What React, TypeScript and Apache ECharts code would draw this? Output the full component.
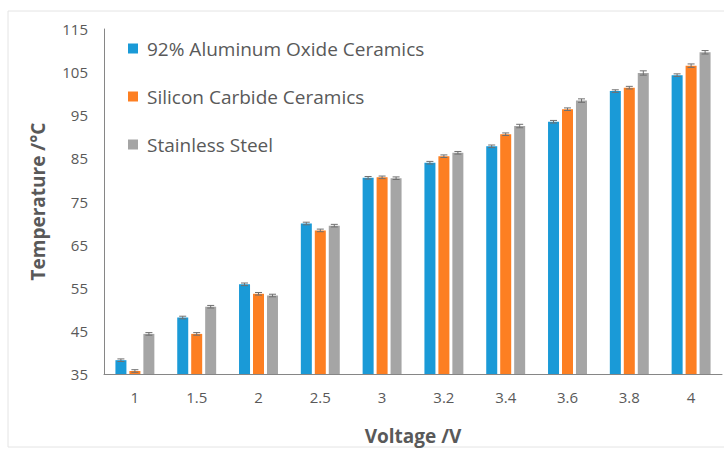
import React, { useEffect, useRef } from "react";
import * as echarts from "echarts";

const categories = ["1", "1.5", "2", "2.5", "3", "3.2", "3.4", "3.6", "3.8", "4"];
const seriesNames = ["92% Aluminum Oxide Ceramics", "Silicon Carbide Ceramics", "Stainless Steel"];
const aluminaValues = [38.2, 48.1, 55.8, 69.9, 80.5, 84.0, 87.8, 93.5, 100.6, 104.3];
const siliconCarbideValues = [35.7, 44.3, 53.6, 68.3, 80.6, 85.5, 90.6, 96.4, 101.4, 106.5];
const steelValues = [44.3, 50.6, 53.2, 69.4, 80.4, 86.3, 92.5, 98.4, 104.8, 109.6];
const aluminaErrors = [0.3, 0.3, 0.3, 0.3, 0.3, 0.3, 0.3, 0.3, 0.3, 0.3];
const siliconCarbideErrors = [0.3, 0.3, 0.3, 0.3, 0.3, 0.3, 0.3, 0.3, 0.3, 0.4];
const steelErrors = [0.3, 0.3, 0.3, 0.3, 0.3, 0.3, 0.4, 0.4, 0.5, 0.4];
const yTickLabels = [35, 45, 55, 65, 75, 85, 95, 105, 115];

const colors = ["#1a9ad7", "#fd7f22", "#a5a5a5"];
const textColor = "#595959";
const font = "'Open Sans', 'Noto Sans', sans-serif";

export default function App() {
  const ref = useRef<HTMLDivElement>(null);
  useEffect(() => {
    if (!ref.current) return;
    const chart = echarts.init(ref.current, undefined, { renderer: "svg" });
    const values = [aluminaValues, siliconCarbideValues, steelValues];
    const errors = [aluminaErrors, siliconCarbideErrors, steelErrors];
    const barWidth = 11;
    const step = 14;

    const barSeries = seriesNames.map((name, i) => ({
      name,
      type: "bar",
      data: values[i],
      barWidth,
      barGap: "27%",
      itemStyle: { color: colors[i] },
    }));

    const errorSeries = seriesNames.map((name, i) => ({
      name: name + " error",
      type: "custom",
      data: values[i].map((v, j) => [j, v, errors[i][j]]),
      z: 5,
      renderItem: (params: any, api: any) => {
        const cat = api.value(0);
        const v = api.value(1);
        const e = api.value(2);
        const top = api.coord([cat, v + e]);
        const bot = api.coord([cat, v - e]);
        const x = top[0] + (i - 1) * step;
        const hw = 3.5;
        const style = { stroke: "#707070", lineWidth: 1 };
        return {
          type: "group",
          children: [
            { type: "line", shape: { x1: x, y1: top[1], x2: x, y2: bot[1] }, style },
            { type: "line", shape: { x1: x - hw, y1: top[1], x2: x + hw, y2: top[1] }, style },
            { type: "line", shape: { x1: x - hw, y1: bot[1], x2: x + hw, y2: bot[1] }, style },
          ],
        };
      },
    }));

    chart.setOption({
      animation: false,
      backgroundColor: "#ffffff",
      textStyle: { fontFamily: font },
      graphic: [
        {
          type: "rect",
          shape: { x: 8, y: 11, width: 730, height: 436 },
          style: { fill: "none", stroke: "#e4e4e4", lineWidth: 1 },
          silent: true,
        },
      ],
      legend: {
        data: seriesNames,
        orient: "vertical",
        left: 123,
        top: 34,
        itemWidth: 10,
        itemHeight: 10,
        itemGap: 29,
        icon: "rect",
        textStyle: { color: textColor, fontSize: 19, fontFamily: font, padding: [0, 0, 0, 4] },
      },
      grid: { left: 104, right: 2, top: 29, bottom: 73, containLabel: false },
      xAxis: {
        type: "category",
        data: categories,
        name: "Voltage /V",
        nameLocation: "middle",
        nameGap: 52,
        nameTextStyle: { color: textColor, fontSize: 19, fontWeight: "bold", fontFamily: font },
        axisLine: { lineStyle: { color: "#868686", width: 1 } },
        axisTick: { show: false },
        axisLabel: { color: textColor, fontSize: 15, margin: 15, fontFamily: font },
      },
      yAxis: {
        type: "value",
        min: 35,
        max: 115,
        interval: 5,
        name: "Temperature /°C",
        nameLocation: "middle",
        nameGap: 57,
        nameTextStyle: { color: textColor, fontSize: 19, fontWeight: "bold", fontFamily: font },
        axisLine: { show: true, lineStyle: { color: "#868686", width: 1 } },
        axisTick: { show: false },
        splitLine: { show: false },
        axisLabel: {
          color: textColor,
          fontSize: 15,
          margin: 16,
          fontFamily: font,
          formatter: (v: number) => (yTickLabels.includes(v) ? String(v) : ""),
        },
      },
      series: [...barSeries, ...errorSeries],
    });
    return () => chart.dispose();
  }, []);
  return (
    <div
      ref={ref}
      style={{ position: "fixed", left: 0, top: 0, width: 724, height: 450, background: "#fff" }}
    />
  );
}
